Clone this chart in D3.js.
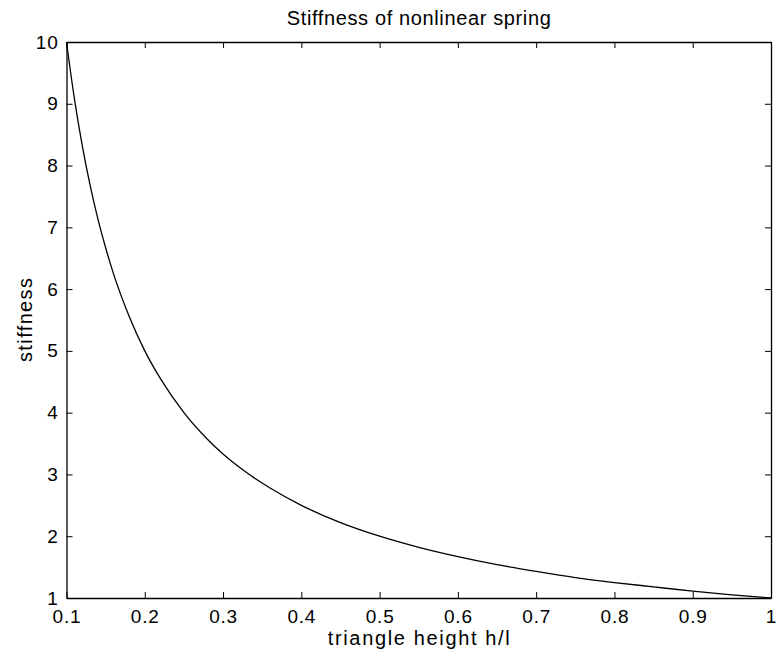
<!DOCTYPE html>
<html>
<head>
<meta charset="utf-8">
<script src="https://cdn.jsdelivr.net/npm/d3@7"></script>
<style>
  body { margin: 0; background: #fff; }
  text { font-family: "Liberation Sans", Arial, sans-serif; fill: #000; }
</style>
</head>
<body>
<div id="chart"></div>
<script>
// triangle height h/l vs. stiffness
var heights = [0.10, 0.11, 0.12, 0.13, 0.14, 0.15, 0.16, 0.18, 0.20, 0.22, 0.25, 0.28, 0.30, 0.33, 0.36, 0.40,
               0.45, 0.50, 0.55, 0.60, 0.65, 0.70, 0.75, 0.80, 0.85, 0.90, 0.95, 1.00];
var stiffness = [10.0, 9.09, 8.33, 7.69, 7.14, 6.67, 6.25, 5.56, 5.00, 4.55, 4.00, 3.57, 3.33, 3.03, 2.78, 2.50,
                 2.22, 2.00, 1.82, 1.67, 1.54, 1.43, 1.33, 1.25, 1.18, 1.11, 1.05, 1.00];
var xTicks = [0.1, 0.2, 0.3, 0.4, 0.5, 0.6, 0.7, 0.8, 0.9, 1];
var yTicks = [1, 2, 3, 4, 5, 6, 7, 8, 9, 10];

var W = 777, H = 656;
var m = {left: 66.5, right: 6, top: 42, bottom: 58};

var svg = d3.select("#chart").append("svg").attr("width", W).attr("height", H);

var x = d3.scaleLinear().domain([0.1, 1]).range([m.left, W - m.right]);
var y = d3.scaleLinear().domain([1, 10]).range([H - m.bottom, m.top]);

var tickLen = 6;
function tickFont(g) {
    g.attr("font-family", null).attr("font-size", null);
    g.selectAll("text").attr("font-size", 19).attr("letter-spacing", 0.8);
}

// bottom axis
svg.append("g").attr("transform", "translate(0," + y(1) + ")")
    .call(d3.axisBottom(x).tickValues(xTicks).tickFormat(d3.format("")).tickSizeInner(-tickLen).tickSizeOuter(0).tickPadding(12))
    .call(tickFont);
// top axis (ticks only)
svg.append("g").attr("transform", "translate(0," + y(10) + ")")
    .call(d3.axisTop(x).tickValues(xTicks).tickFormat("").tickSizeInner(-tickLen).tickSizeOuter(0));
// left axis
svg.append("g").attr("transform", "translate(" + x(0.1) + ",0)")
    .call(d3.axisLeft(y).tickValues(yTicks).tickSizeInner(-tickLen).tickSizeOuter(0).tickPadding(8))
    .call(tickFont);
// right axis (ticks only)
svg.append("g").attr("transform", "translate(" + x(1) + ",0)")
    .call(d3.axisRight(y).tickValues(yTicks).tickFormat("").tickSizeInner(-tickLen).tickSizeOuter(0));

svg.selectAll(".domain").attr("stroke", "#000").attr("stroke-width", 1.3);
svg.selectAll(".tick line").attr("stroke", "#000").attr("stroke-width", 1);

// data line
var pts = heights.map(function (h, i) { return [h, stiffness[i]]; });
svg.append("path")
    .datum(pts)
    .attr("fill", "none")
    .attr("stroke", "#000")
    .attr("stroke-width", 1.3)
    .attr("d", d3.line().x(function (d) { return x(d[0]); }).y(function (d) { return y(d[1]); }).curve(d3.curveMonotoneX));

// labels
var cx = (x(0.1) + x(1)) / 2;
svg.append("text").attr("x", cx).attr("y", 25)
    .attr("text-anchor", "middle").attr("font-size", 20)
    .attr("textLength", 264).attr("lengthAdjust", "spacing")
    .text("Stiffness of nonlinear spring");
svg.append("text").attr("x", cx).attr("y", 645)
    .attr("text-anchor", "middle").attr("font-size", 20)
    .attr("textLength", 182).attr("lengthAdjust", "spacing")
    .text("triangle height h/l");
svg.append("text").attr("transform", "translate(32," + y(5.5) + ") rotate(-90)")
    .attr("text-anchor", "middle").attr("font-size", 20)
    .attr("textLength", 84).attr("lengthAdjust", "spacing")
    .text("stiffness");
</script>
</body>
</html>
